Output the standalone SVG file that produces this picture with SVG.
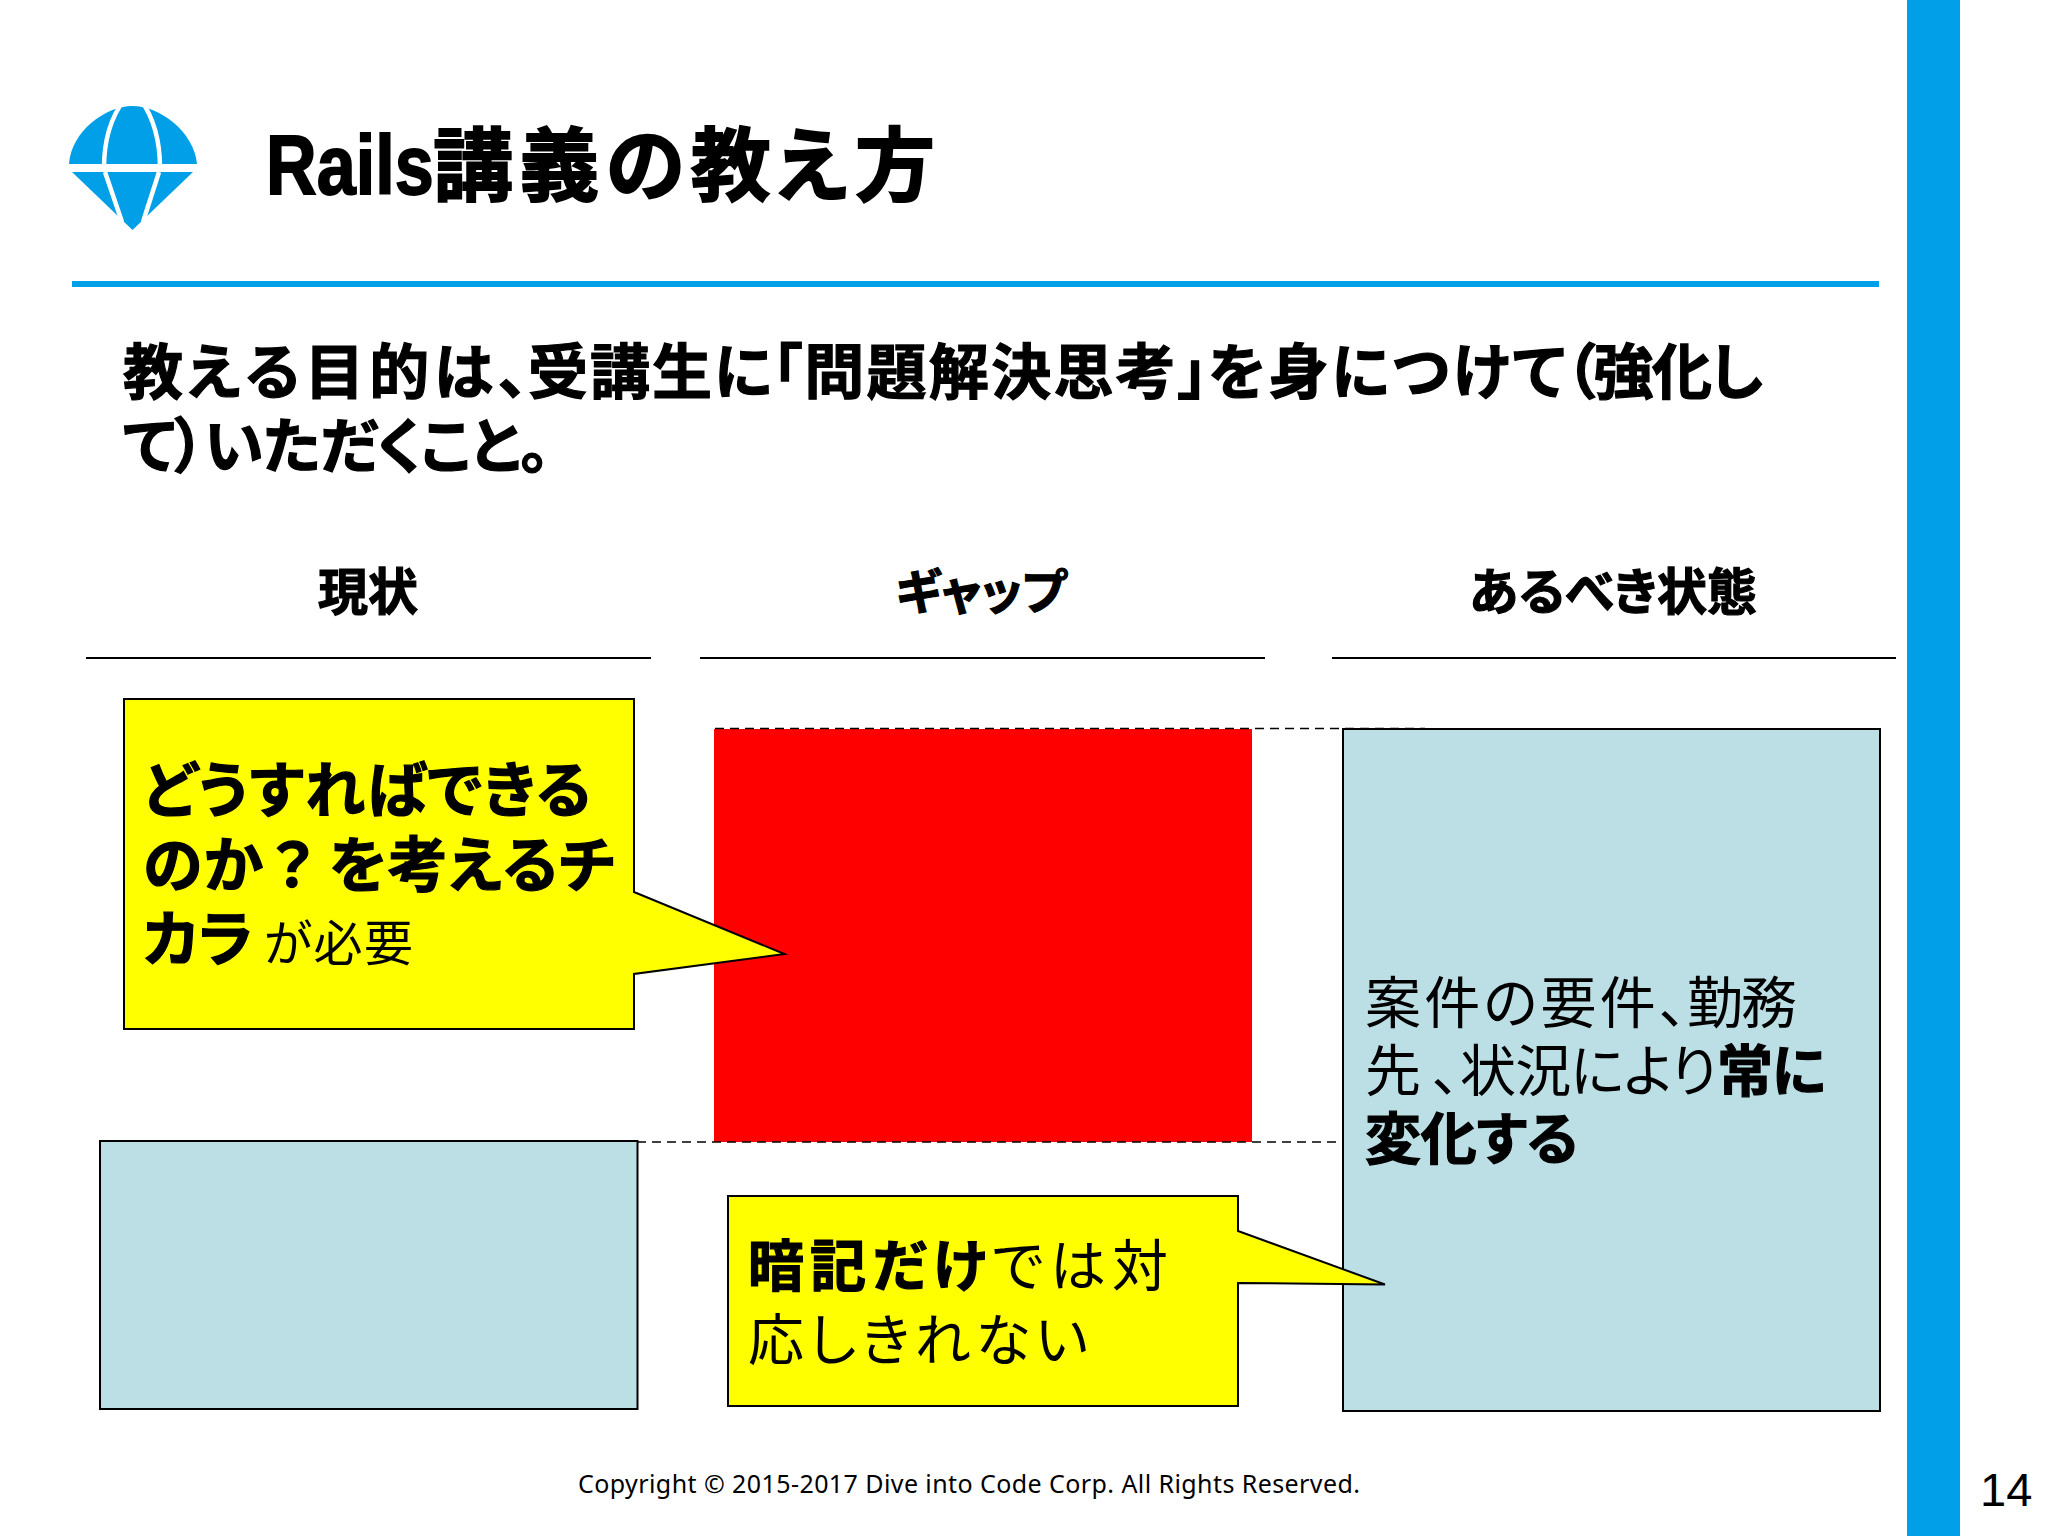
<svg xmlns="http://www.w3.org/2000/svg" width="2048" height="1536" viewBox="0 0 2048 1536">
<style>
text{font-family:"Liberation Sans","Noto Sans CJK JP",sans-serif;fill:#000}
.j{font-family:"Noto Sans CJK JP",sans-serif;font-feature-settings:"palt";font-weight:400}
.b{font-weight:700;stroke:#000;stroke-width:1.2}
.s{stroke:#000;stroke-width:1.8}
.d{stroke:#000;stroke-width:1.6;stroke-dasharray:9 6;fill:none}
.u{stroke:#000;stroke-width:2;fill:none}
.blue{fill:#bbdfe4;stroke:#000;stroke-width:2}
.y{fill:#ff0;stroke:#000;stroke-width:2}
</style>
<rect width="2048" height="1536" fill="#fff"/>
<g id="frame">
<rect x="1907" y="0" width="53" height="1536" fill="#009fe8"/>
<rect x="72" y="281" width="1807" height="6" fill="#009fe8"/>
</g>
<g id="logo">
<path d="M69 164C71 132 105 106 132.500 106C160 106 194 132 197 164Z" fill="#009fe8"/>
<path d="M72 172H193L132.500 230Z" fill="#009fe8"/>
<path d="M104 168C104 142 109 120 124 100M160 168C160 142 155 120 141 100M105 172L122 222M159 172L143 222" fill="none" stroke="#fff" stroke-width="4.500"/>
</g>
<g id="title">
<text transform="translate(266 194) scale(.835 1)" x="0" y="0" font-size="84" font-weight="700" class="s">Rails</text>
<text x="433" y="194" font-size="80" textLength="502" class="j b s">講義の教え方</text>
</g>
<g id="lead">
<text y="394" font-size="60" class="j b"><tspan x="123" textLength="405">教える目的は、</tspan><tspan x="528" textLength="244">受講生に</tspan><tspan x="772" textLength="436">「問題解決思考」</tspan><tspan x="1208" textLength="357">を身につけて</tspan><tspan x="1565" textLength="198">（強化し</tspan></text>
<text x="123" y="468" font-size="60" textLength="427" class="j b">て）いただくこと。</text>
</g>
<g id="col-current"><text x="368" y="610" font-size="50" text-anchor="middle" class="j b">現状</text><path class="u" d="M86 658H651"/></g>
<g id="col-gap"><text x="981" y="609" font-size="48" text-anchor="middle" class="j b">ギャップ</text><path class="u" d="M700 658H1265"/></g>
<g id="col-goal"><text x="1613" y="610" font-size="50" text-anchor="middle" class="j b">あるべき状態</text><path class="u" d="M1332 658H1896"/></g>
<g id="gap-box"><rect x="714" y="729" width="538" height="413" fill="#f00"/></g>
<g id="current-box"><rect class="blue" x="100" y="1141" width="537.500" height="268"/></g>
<g id="goal-box">
<rect class="blue" x="1343" y="729" width="537" height="682"/>
<text y="1023" font-size="56" class="j"><tspan x="1365" textLength="322">案件の要件、</tspan><tspan x="1687" textLength="110">勤務</tspan></text>
<text y="1091" font-size="56" class="j"><tspan x="1365" textLength="95">先、</tspan><tspan x="1460" textLength="257">状況により</tspan><tspan x="1717" textLength="109" class="b">常に</tspan></text>
<text x="1365" y="1159" font-size="56" textLength="213" class="j b">変化する</text>
</g>
<g id="connectors">
<path class="d" d="M715 728.500H1425"/>
<path class="d" d="M637 1142H1343"/>
</g>
<g id="callout-top">
<path class="y" d="M124 699H634V892L784.500 954L634 974V1029H124Z"/>
<text x="143" y="812" font-size="60" textLength="448" class="j b">どうすればできる</text>
<text y="887" font-size="60" class="j b"><tspan x="143" textLength="120">のか</tspan><tspan x="272" textLength="50">？</tspan><tspan x="329" textLength="286">を考えるチ</tspan></text>
<text y="961" font-size="60" class="j"><tspan x="143" class="b">カラ</tspan><tspan x="264" font-size="49" textLength="149">が必要</tspan></text>
</g>
<g id="callout-bottom">
<path class="y" d="M728 1196H1238V1231L1385 1284.500L1238 1283V1406H728Z"/>
<text x="748" y="1286" font-size="56" textLength="420" class="j"><tspan class="b">暗記だけ</tspan>では対</text>
<text x="748" y="1360" font-size="56" textLength="340" class="j">応しきれない</text>
</g>
<g id="footer">
<text x="578" y="1493" font-size="25" textLength="782" style="font-family:'Noto Sans','Noto Sans CJK JP',sans-serif">Copyright © 2015-2017 Dive into Code Corp. All Rights Reserved.</text>
<text x="1980" y="1506" font-size="47">14</text>
</g>
</svg>
